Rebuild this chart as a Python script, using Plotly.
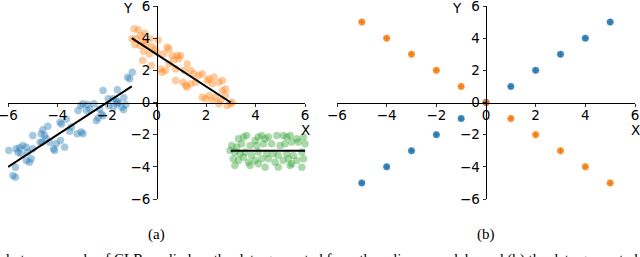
import plotly.graph_objects as go

# ---------------- data: panel (a) ----------------
blue_x = [-1.17, -1.08, -0.98, -2.16, -1.58, -1.95, -1.76, -1.32, -2.97, -2.79, -3.06, -2.53,
          -3.17, -2.83, -2.70, -2.30, -1.93, -1.74, -1.60, -1.40, -1.33, -1.24, -1.60, -1.54,
          -2.16, -2.36, -2.43, -2.23, -3.90, -3.64, -3.84, -3.44, -3.51, -3.21, -3.04, -2.97,
          -4.39, -4.59, -4.66, -4.52, -4.45, -5.00, -4.70, -4.32, -4.05, -4.16, -4.12, -3.71,
          -5.97, -5.67, -5.53, -5.40, -5.26, -5.60, -5.47, -5.20, -5.06, -5.26, -5.13,
          -5.70, -5.80, -5.70, -3.88, -5.00, -4.62]
blue_y = [1.57, 1.47, 1.88, 0.75, 0.79, 0.23, 0.23, 0.29, -0.08, -0.12, -0.19, -0.08,
          -0.50, -0.50, -0.40, -0.40, -0.19, -0.29, -0.08, -0.29, -0.45, -0.14, 0.10, 0.00,
          -0.82, -0.96, -1.13, -0.72, -1.23, -1.03, -1.34, -1.53, -1.78, -1.94, -1.84, -1.94,
          -1.47, -1.70, -1.94, -2.05, -2.26, -2.05, -2.47, -2.47, -2.57, -2.88, -2.98, -2.78,
          -2.98, -2.88, -2.81, -2.67, -2.78, -3.09, -3.19, -3.09, -3.50, -3.60, -3.71,
          -4.02, -4.54, -4.64, -2.36, -2.88, -2.47]

orange_x = [-0.91, -0.74, -0.47, -0.64, -0.99, -0.81, -0.54, -0.87, -0.66, -0.43, -0.26, 0.06,
            -0.19, -0.05, -0.52, -0.29, 0.01, -0.56, -0.21, 0.16, 0.23, 0.36,
            0.43, 0.50, 0.29, 0.63, 0.84, 0.97, 0.90, 0.70, 1.24, 0.50, 0.77, 1.11, 1.38, 1.51,
            0.77, 1.07, 1.18, 1.24, 1.38, 1.58, 1.71, 1.85, 2.05, 2.12, 2.32, 2.25, 2.52, 2.66,
            1.85, 2.12, 1.98, 2.39, 2.66, 2.79, 2.59, 2.86, 3.00, 3.06, 2.25, 2.52, 2.79]
orange_y = [4.58, 4.52, 4.30, 4.16, 3.96, 3.96, 3.81, 3.60, 3.54, 3.64, 3.96, 3.89,
            3.48, 3.33, 3.19, 3.02, 3.12, 2.61, 2.30, 2.09, 1.88, 1.99,
            3.44, 3.33, 3.02, 2.92, 2.92, 2.92, 2.72, 2.65, 2.40, 2.40, 2.09, 1.99, 1.99, 1.78,
            1.37, 1.26, 1.06, 0.95, 1.16, 1.26, 1.68, 1.78, 1.37, 1.47, 1.58, 1.16, 1.26, 1.37,
            0.33, 0.44, 0.23, 0.33, 0.74, 0.84, 0.12, -0.19, -0.08, 0.02, 0.12, -0.08, 0.44]

green_x = [3.31, 3.51, 3.64, 3.98, 4.11, 4.25, 4.39, 4.52, 4.86, 5.12, 5.26, 5.40, 5.67, 5.94,
           3.04, 3.24, 3.44, 3.78, 4.05, 4.32, 4.65, 4.99, 5.19, 5.46, 5.73, 6.00,
           2.97, 3.17, 3.37, 3.58, 3.84, 4.11, 4.45, 4.72, 4.92, 5.26, 5.53, 5.87,
           3.10, 3.31, 3.51, 3.71, 3.98, 4.25, 4.52, 4.79, 5.12, 5.33, 5.67, 5.94,
           3.17, 3.78, 4.11, 4.39, 4.92, 5.40, 5.87, 5.46]
green_y = [-2.26, -2.15, -2.05, -2.36, -2.15, -2.05, -2.26, -2.15, -2.05, -2.05, -2.15, -2.05, -2.26, -2.15,
           -2.67, -2.77, -2.57, -2.67, -2.67, -2.57, -2.57, -2.67, -2.57, -2.46, -2.46, -2.57,
           -2.98, -3.08, -3.19, -3.08, -3.29, -3.08, -3.19, -3.19, -3.29, -3.19, -3.29, -3.08,
           -3.50, -3.60, -3.40, -3.71, -3.60, -3.50, -3.50, -3.71, -3.60, -3.50, -3.60, -3.50,
           -3.91, -3.91, -3.81, -4.02, -4.02, -3.91, -4.02, -3.81]

blue_fit_x = [-6, -1]
blue_fit_y = [-4, 1]
orange_fit_x = [-1, 3]
orange_fit_y = [4, 0]
green_fit_x = [3, 6]
green_fit_y = [-3, -3]

# ---------------- data: panel (b) ----------------
b_blue_x = [-5, -4, -3, -2, -1, 0, 1, 2, 3, 4, 5]
b_blue_y = [-5, -4, -3, -2, -1, 0, 1, 2, 3, 4, 5]
b_orange_x = [-5, -4, -3, -2, -1, 0, 1, 2, 3, 4, 5]
b_orange_y = [5, 4, 3, 2, 1, 0, -1, -2, -3, -4, -5]

tick_vals = [-6, -4, -2, 0, 2, 4, 6]
tick_text = ["\u22126", "\u22124", "\u22122", "0", "2", "4", "6"]
captions = ["(a)", "(b)"]
caption_text = ("Fig. 2: (a) This is a simple toy example of CLR applied on the data generated "
                "from three linear models, and (b) the data generated from two linear models")

BLUE = "#1f77b4"
ORANGE = "#ff7f0e"
GREEN = "#2ca02c"
TICK_FONT = dict(family="DejaVu Sans", size=13.5, color="black")

W, H = 640, 257
xdom1 = [8 / W, 305 / W]
xdom2 = [337 / W, 635 / W]
ydom = [1 - 199 / H, 1 - 6 / H]
ymid = (ydom[0] + ydom[1]) / 2

fig = go.Figure()

def scat(x, y, color, xa, ya, size=7, opacity=0.4):
    fig.add_trace(go.Scatter(
        x=x, y=y, mode="markers", xaxis=xa, yaxis=ya, showlegend=False, cliponaxis=False,
        marker=dict(size=size, color=color, opacity=opacity,
                    line=dict(width=0.6, color=color))))

scat(blue_x, blue_y, BLUE, "x", "y")
scat(orange_x, orange_y, ORANGE, "x", "y")
scat(green_x, green_y, GREEN, "x", "y")
for fx, fy in [(blue_fit_x, blue_fit_y), (orange_fit_x, orange_fit_y), (green_fit_x, green_fit_y)]:
    fig.add_trace(go.Scatter(x=fx, y=fy, mode="lines", xaxis="x", yaxis="y", showlegend=False,
                             line=dict(color="black", width=2)))

scat(b_blue_x, b_blue_y, BLUE, "x2", "y2", size=6.5, opacity=0.85)
scat(b_orange_x, b_orange_y, ORANGE, "x2", "y2", size=6.5, opacity=0.85)
for bx, by, col in [(b_blue_x, b_blue_y, "#1a5f8f"), (b_orange_x, b_orange_y, "#d0660b")]:
    fig.add_trace(go.Scatter(x=bx, y=by, mode="markers", xaxis="x2", yaxis="y2", showlegend=False,
                             marker=dict(symbol="cross-thin", size=4, color=col,
                                         line=dict(width=0.8, color=col), opacity=0.7)))

common_axis = dict(range=[-6, 6], tickvals=tick_vals, ticktext=tick_text, showgrid=False,
                   zeroline=False, showline=True, linecolor="black", linewidth=1,
                   ticks="outside", ticklen=3.5, tickwidth=0.8, tickcolor="black",
                   tickfont=TICK_FONT, fixedrange=True, automargin=False,
                   ticklabeloverflow="allow")

fig.update_layout(
    width=W, height=H, margin=dict(l=0, r=0, t=0, b=0, autoexpand=False),
    paper_bgcolor="white", plot_bgcolor="white", hovermode=False,
    xaxis=dict(domain=xdom1, anchor="free", position=ymid, ticklabelstandoff=-3, **common_axis),
    yaxis=dict(domain=ydom, anchor="free", position=(xdom1[0] + xdom1[1]) / 2, **common_axis),
    xaxis2=dict(domain=xdom2, anchor="free", position=ymid, ticklabelstandoff=-3, **common_axis),
    yaxis2=dict(domain=ydom, anchor="free", position=(xdom2[0] + xdom2[1]) / 2, **common_axis),
)

ann = []
for xr, yr in [("x", "y"), ("x2", "y2")]:
    ann.append(dict(x=-1.16, y=5.9, xref=xr, yref=yr, text="Y", showarrow=False,
                    font=TICK_FONT, xanchor="center", yanchor="middle"))
    ann.append(dict(x=6.0, y=-1.7, xref=xr, yref=yr, text="X", showarrow=False,
                    font=TICK_FONT, xanchor="center", yanchor="middle"))
for xc, cap in zip([(xdom1[0] + xdom1[1]) / 2, (xdom2[0] + xdom2[1]) / 2], captions):
    ann.append(dict(x=xc, y=1 - 234 / H, xref="paper", yref="paper", text=cap, showarrow=False,
                    font=dict(family="Liberation Serif", size=15, color="black"),
                    xanchor="center", yanchor="middle"))
ann.append(dict(x=0.5, y=1 - 249 / H, xref="paper", yref="paper", text=caption_text,
                showarrow=False, font=dict(family="Liberation Serif", size=15, color="black"),
                xanchor="center", yanchor="top"))
fig.update_layout(annotations=ann)

fig.write_html("out.html", config={"displayModeBar": False, "staticPlot": True},
               post_script="document.body.style.margin='0';document.body.style.overflow='hidden';")
